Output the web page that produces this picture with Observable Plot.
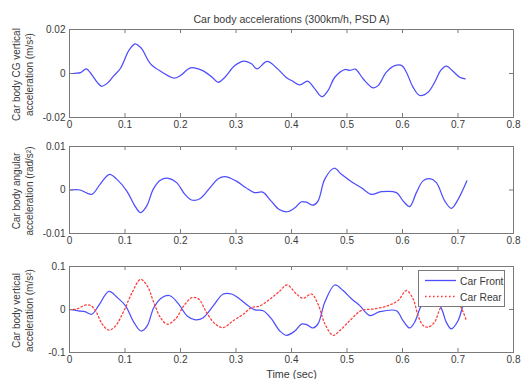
<!DOCTYPE html>
<html><head><meta charset="utf-8">
<script src="https://cdn.jsdelivr.net/npm/d3@7"></script>
<script src="https://cdn.jsdelivr.net/npm/@observablehq/plot@0.6"></script>
<style>
html,body{margin:0;padding:0;background:#fff;}
#wrap{position:relative;width:529px;height:379px;overflow:hidden;background:#fff;font-family:"Liberation Sans",Arial,sans-serif;}
#wrap svg{position:absolute;left:0;}
#legend{position:absolute;}
</style>
</head><body><div id="wrap"></div>
<script>
// ---- data ----
const chartTitle = "Car body accelerations (300km/h, PSD A)";
const xTicks = [0,0.1,0.2,0.3,0.4,0.5,0.6,0.7,0.8];
const xTickLabels = ["0","0.1","0.2","0.3","0.4","0.5","0.6","0.7","0.8"];
const xLabel = "Time (sec)";

const cgTime = [0,0.01,0.02,0.03,0.04,0.05,0.058,0.07,0.08,0.092,0.107,0.118,0.125,0.131,0.146,0.167,0.188,0.2,0.218,0.239,0.257,0.268,0.28,0.298,0.315,0.328,0.338,0.356,0.375,0.39,0.4,0.415,0.429,0.442,0.455,0.466,0.478,0.496,0.505,0.515,0.529,0.547,0.556,0.571,0.586,0.599,0.607,0.619,0.631,0.646,0.658,0.669,0.679,0.691,0.703,0.713];
const cgAccel = [0,0.0001,0.0004,0.0021,-0.0005,-0.004,-0.0058,-0.004,-0.001,0.0024,0.0105,0.0135,0.0125,0.011,0.0044,0.0006,-0.0021,-0.0009,0.0026,0.0014,-0.0017,-0.004,-0.0017,0.0036,0.0056,0.0044,0.0021,0.0055,0.0021,-0.0017,-0.0032,-0.0052,-0.0035,-0.007,-0.0105,-0.0077,-0.0017,0.0018,0.0014,0.002,-0.0024,-0.0065,-0.0055,0.0006,0.0036,0.0036,0.0006,-0.0062,-0.01,-0.0085,-0.004,0.0014,0.0033,0.001,-0.0017,-0.0024];
const cgTicks = [-0.02,0,0.02];
const cgTickLabels = ["-0.02","0","0.02"];
const cgLabel = "Car body CG vertical\nacceleration (m/s²)";

const angTime = [0,0.019,0.04,0.055,0.072,0.085,0.103,0.118,0.128,0.139,0.151,0.163,0.178,0.193,0.208,0.22,0.235,0.253,0.268,0.28,0.3,0.318,0.333,0.348,0.363,0.378,0.392,0.406,0.418,0.427,0.439,0.448,0.46,0.477,0.49,0.508,0.526,0.544,0.562,0.589,0.601,0.613,0.625,0.637,0.649,0.661,0.676,0.688,0.7,0.716];
const angAccel = [0,0,-0.001,0.0013,0.0036,0.0025,-0.0002,-0.0037,-0.0052,-0.0037,0.0002,0.0022,0.0027,0.0017,-0.001,-0.0023,-0.002,0.0005,0.0026,0.0031,0.0021,0.0005,-0.0006,-0.0005,-0.0025,-0.0045,-0.005,-0.0041,-0.0027,-0.0028,-0.0035,-0.0025,0.0025,0.005,0.0036,0.0019,0.0005,-0.001,-0.0004,-0.0006,-0.0025,-0.0038,-0.0006,0.0021,0.0026,0.0017,-0.0025,-0.0042,-0.0022,0.0021];
const angTicks = [-0.01,0,0.01];
const angTickLabels = ["-0.01","0","0.01"];
const angLabel = "Car body angular\nacceleration (rad/s²)";

const frontTime = [0,0.016,0.028,0.04,0.053,0.071,0.086,0.101,0.116,0.129,0.14,0.152,0.167,0.181,0.197,0.212,0.227,0.241,0.259,0.277,0.292,0.307,0.322,0.334,0.349,0.364,0.379,0.391,0.406,0.418,0.427,0.439,0.448,0.46,0.478,0.493,0.508,0.523,0.541,0.559,0.589,0.601,0.613,0.622,0.634,0.649,0.669,0.679,0.688,0.7,0.709,0.716];
const frontAccel = [0,-0.003,-0.005,-0.011,0.01,0.042,0.028,0.0085,-0.03,-0.05,-0.038,0.0046,0.028,0.032,0.012,-0.015,-0.024,-0.019,0.0085,0.036,0.036,0.024,0.0085,-0.0008,-0.003,-0.022,-0.05,-0.06,-0.05,-0.034,-0.035,-0.043,-0.033,0.017,0.057,0.044,0.025,0.009,-0.014,-0.005,-0.003,-0.026,-0.043,-0.029,0.009,0.03,0.005,-0.03,-0.045,-0.026,0.009,0.03];
const rearTime = [0,0.013,0.028,0.037,0.047,0.059,0.071,0.083,0.098,0.113,0.128,0.14,0.152,0.164,0.176,0.191,0.206,0.221,0.233,0.247,0.262,0.277,0.295,0.313,0.328,0.343,0.361,0.379,0.392,0.409,0.421,0.436,0.448,0.46,0.475,0.487,0.505,0.526,0.55,0.574,0.592,0.607,0.619,0.628,0.637,0.646,0.658,0.669,0.688,0.703,0.709,0.715];
const rearAccel = [0,0.001,0.01,0.01,-0.003,-0.034,-0.048,-0.038,-0.003,0.04,0.07,0.055,0.016,-0.019,-0.034,-0.022,0.0085,0.028,0.024,-0.007,-0.033,-0.042,-0.026,-0.011,0.0046,0.0085,0.024,0.043,0.057,0.036,0.026,0.036,0.012,-0.033,-0.06,-0.049,-0.026,-0.0023,0.0015,0.009,0.021,0.044,0.025,-0.014,-0.037,-0.041,-0.029,0.005,0.03,0.01,-0.005,-0.025];
const vTicks = [-0.1,0,0.1];
const vTickLabels = ["-0.1","0","0.1"];
const vLabel = "Car body vertical\nacceleration (m/s²)";
const seriesNames = ["Car Front","Car Rear"];

// ---- styling ----
const BLUE = "#4d4dff", RED = "#ff3838", AX = "#7a7a7a", TXT = "#3a3a3a";
const W = 529, ML = 69, MR = 16;
const fw = W - ML - MR;

function toRows(t, v) { return t.map((d, i) => ({t: d, v: v[i]})); }

function panel({top, height, mt, mb, yTicks, yTickLabels, ylabel, series, extra = []}) {
  const fh = height - mt - mb;
  const yd = [yTicks[0], yTicks[yTicks.length - 1]];
  const svg = Plot.plot({
    width: W, height, marginLeft: ML, marginRight: MR, marginTop: mt, marginBottom: mb,
    style: {fontFamily: '"Liberation Sans", Arial, sans-serif', fontSize: "10px", color: TXT, background: "transparent", overflow: "visible"},
    x: {domain: [0, 0.8]},
    y: {domain: yd},
    marks: [
      ...series.map(s => Plot.line(s.rows, {x: "t", y: "v", stroke: s.color, strokeWidth: 1.25, strokeDasharray: s.dash, curve: "catmull-rom"})),
      Plot.frame({stroke: AX, strokeWidth: 1}),
      Plot.ruleX(xTicks, {insetTop: fh - 4, stroke: AX}),
      Plot.ruleX(xTicks, {insetBottom: fh - 4, stroke: AX}),
      Plot.ruleY(yTicks, {insetRight: fw - 4, stroke: AX}),
      Plot.ruleY(yTicks, {insetLeft: fw - 4, stroke: AX}),
      Plot.axisX(xTicks, {tickSize: 0, tickPadding: 3, label: null, tickFormat: (d, i) => xTickLabels[i], fill: TXT}),
      Plot.axisY(yTicks, {tickSize: 0, tickPadding: 4, label: null, tickFormat: (d, i) => yTickLabels[i], fill: TXT}),
      Plot.text([ylabel], {frameAnchor: "left", textAnchor: "middle", rotate: -90, dx: -47.5, dy: 1, lineAnchor: "middle", fill: TXT, fontSize: 10, lineHeight: 1.3}),
      ...extra
    ]
  });
  svg.style.top = top + "px";
  return svg;
}

const wrap = document.getElementById("wrap");

wrap.appendChild(panel({
  top: 0, height: 130, mt: 29, mb: 13,
  yTicks: cgTicks, yTickLabels: cgTickLabels, ylabel: cgLabel,
  series: [{rows: toRows(cgTime, cgAccel), color: BLUE}],
  extra: [Plot.text([chartTitle], {frameAnchor: "top", dy: -10, fill: TXT, fontSize: 10.6, lineAnchor: "middle"})]
}));

wrap.appendChild(panel({
  top: 130, height: 116, mt: 16, mb: 13,
  yTicks: angTicks, yTickLabels: angTickLabels, ylabel: angLabel,
  series: [{rows: toRows(angTime, angAccel), color: BLUE}]
}));

wrap.appendChild(panel({
  top: 250, height: 129, mt: 16, mb: 27,
  yTicks: vTicks, yTickLabels: vTickLabels, ylabel: vLabel,
  series: [
    {rows: toRows(frontTime, frontAccel), color: BLUE},
    {rows: toRows(rearTime, rearAccel), color: RED, dash: "1.6,2.4"}
  ],
  extra: [Plot.text([xLabel], {frameAnchor: "bottom", dy: 22, fill: TXT, fontSize: 10.8, lineAnchor: "middle"})]
}));

// legend box
const ns = "http://www.w3.org/2000/svg";
const lg = document.createElementNS(ns, "svg");
lg.setAttribute("width", 87); lg.setAttribute("height", 37);
lg.setAttribute("id", "legend");
lg.style.left = "418px"; lg.style.top = "270px";
lg.innerHTML = `<rect x="0.5" y="0.5" width="86" height="36" fill="#fff" stroke="${AX}"/>
<line x1="7" x2="38" y1="10.5" y2="10.5" stroke="${BLUE}" stroke-width="1.3"/>
<line x1="7" x2="38" y1="26.5" y2="26.5" stroke="${RED}" stroke-width="1.3" stroke-dasharray="1.6,2.4"/>
<text x="42" y="14.5" font-size="10.3" fill="${TXT}" font-family="Liberation Sans, Arial, sans-serif">${seriesNames[0]}</text>
<text x="42" y="30.5" font-size="10.3" fill="${TXT}" font-family="Liberation Sans, Arial, sans-serif">${seriesNames[1]}</text>`;
wrap.appendChild(lg);
</script></body></html>
